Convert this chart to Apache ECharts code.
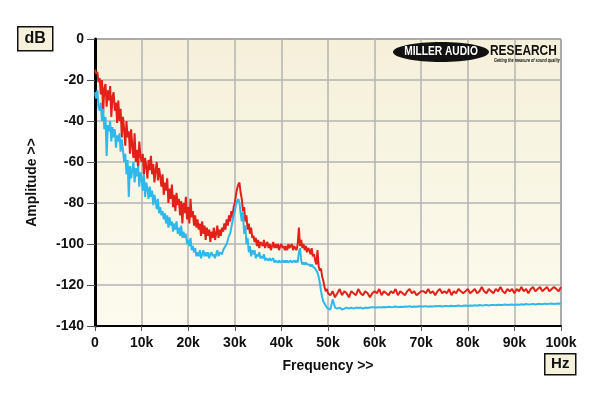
<!DOCTYPE html>
<html><head><meta charset="utf-8">
<script src="https://cdn.jsdelivr.net/npm/echarts@6/dist/echarts.min.js"></script>
<style>html,body{margin:0;padding:0;background:#fff}#c{width:600px;height:396px}</style>
</head><body><div id="c"></div>
<script>
// Frequency grid: 0..50 kHz every 0.25 kHz, then 50.5..100 kHz every 0.5 kHz
const lowStepKHz = 0.25;
const highStartKHz = 50.5;
const highStepKHz = 0.5;
const xTicks = ['0','10k','20k','30k','40k','50k','60k','70k','80k','90k','100k'];
const yTicks = [0,-20,-40,-60,-80,-100,-120,-140];

const redLow = [
-15,-17,-16,-21, -19,-27,-20,-36, -24,-22,-33,-25, -30,-23,-38,-28,
-26,-35,-31,-41, -30,-40,-34,-48, -38,-44,-52,-40, -48,-45,-56,-44,
-52,-58,-46,-60, -54,-63,-50,-57, -60,-56,-66,-58, -62,-68,-59,-64,
-57,-66,-61,-70, -64,-60,-69,-63, -67,-72,-66,-76, -70,-74,-68,-80,
-73,-78,-71,-82, -76,-84,-75,-81, -78,-86,-79,-90, -80,-85,-77,-88,
-82,-90,-78,-87, -84,-91,-86,-92, -88,-93,-90,-96, -89,-95,-91,-98,
-92,-96,-93,-99, -94,-97,-92,-98, -95,-91,-97,-93, -96,-92,-94,-90,
-93,-88,-91,-86, -89,-84,-87,-82, -80,-76,-73,-71, -70,-75,-78,-84,
-82,-89,-86,-93, -90,-95,-92,-97, -96,-99,-97,-101, -98,-102,-99,-100,
-101,-98,-102,-100, -99,-102,-100,-103, -101,-99,-102,-100, -102,-100,-103,-101,
-100,-102,-101,-103, -101,-103,-100,-102, -102,-100,-103,-101, -101,-103,-100,-92,
-101,-98,-102,-100, -103,-101,-104,-102, -103,-105,-102,-106, -105,-108,-110,-103,
-111,-113,-112,-116, -118,-121,-123,-122, -124
];
const blueLow = [
-26,-29,-25,-33, -35,-31,-40,-34, -44,-38,-57,-42, -45,-40,-50,-43,
-48,-44,-53,-47, -50,-46,-55,-49, -54,-60,-56,-66, -59,-77,-62,-68,
-64,-60,-70,-63, -67,-62,-72,-65, -68,-74,-66,-77, -70,-73,-78,-72,
-77,-74,-81,-76, -79,-83,-78,-85, -82,-86,-84,-88, -85,-90,-86,-92,
-87,-91,-89,-94, -90,-93,-89,-95, -92,-96,-91,-97, -94,-97,-95,-100,
-98,-101,-97,-103, -101,-104,-102,-106, -104,-106,-103,-107, -105,-103,-106,-104,
-106,-104,-107,-105, -104,-106,-105,-107, -105,-103,-106,-104, -104,-105,-103,-102,
-101,-100,-98,-96, -95,-92,-89,-86, -84,-81,-79,-78, -80,-85,-89,-84,
-95,-91,-100,-97, -104,-101,-106,-103, -105,-103,-107,-105, -106,-104,-107,-106,
-107,-105,-108,-107, -107,-108,-107,-108, -108,-107,-109,-108, -108,-109,-108,-109,
-109,-108,-109,-108, -109,-108,-109,-109, -108,-109,-109,-108, -109,-108,-109,-104,
-102,-108,-110,-109, -110,-109,-110,-110, -110,-111,-110,-111, -111,-112,-112,-114,
-116,-119,-123,-126, -128,-129,-130,-131, -131.5
];
const redHigh = [
-125,-123,-126,-124,-122,-125,-123,-124,-126,-123,-124,-125,-122,-124,-125,-123,-124,-126,-124,-123,
-124,-122,-125,-123,-124,-125,-123,-124,-122,-125,-123,-124,-125,-123,-122,-124,-123,-125,-124,-123,
-123,-124,-122,-124,-123,-125,-123,-122,-124,-123,-124,-122,-125,-123,-124,-122,-123,-124,-123,-122,
-124,-123,-122,-124,-123,-121,-123,-124,-122,-123,-124,-122,-123,-121,-123,-124,-122,-123,-122,-124,
-122,-123,-121,-123,-122,-124,-122,-121,-123,-122,-121,-123,-122,-121,-123,-122,-121,-122,-123,-121
];
const blueHigh = [
-132,-127,-131,-131.5,-131,-132,-131.5,-131,-131.5,-131,-131.5,-131,-131.2,-131,-131.5,-131,-131.2,-131,-130.8,-131,
-131,-130.8,-131,-130.7,-130.9,-130.6,-130.8,-130.7,-130.5,-130.8,-130.6,-130.7,-130.5,-130.6,-130.4,-130.7,-130.5,-130.6,-130.4,-130.5,
-130.5,-130.3,-130.6,-130.4,-130.5,-130.3,-130.4,-130.2,-130.5,-130.3,-130.2,-130.4,-130.1,-130.3,-130.2,-130.0,-130.3,-130.1,-130.0,-130.2,
-130.0,-130.1,-129.9,-130.1,-129.8,-130.0,-129.9,-129.7,-130.0,-129.8,-129.7,-129.9,-129.6,-129.8,-129.7,-129.5,-129.8,-129.6,-129.5,-129.7,
-129.5,-129.6,-129.4,-129.6,-129.3,-129.5,-129.4,-129.2,-129.5,-129.3,-129.2,-129.4,-129.1,-129.3,-129.2,-129.0,-129.3,-129.1,-129.0,-129.2
];

function build(low, high) {
  const out = [];
  low.forEach((v, i) => out.push([i * lowStepKHz * 1000, v]));
  high.forEach((v, i) => out.push([(highStartKHz + i * highStepKHz) * 1000, v]));
  return out;
}

const FONT = 'Arial, "Liberation Sans", sans-serif';
const chart = echarts.init(document.getElementById('c'), null, {renderer: 'canvas'});
chart.setOption({
  backgroundColor: '#ffffff',
  animation: false,
  grid: {left: 95, top: 39, width: 466, height: 287, show: true,
    backgroundColor: new echarts.graphic.LinearGradient(0,0,0,1,[{offset:0,color:'#f4f0da'},{offset:1,color:'#fdfbee'}]),
    borderColor: '#222', borderWidth: 1},
  xAxis: {
    type: 'value', min: 0, max: 100000, interval: 10000,
    axisLine: {show: true, onZero: false, lineStyle: {color: '#000', width: 2}},
    axisTick: {show: true, length: 5, lineStyle: {color: '#555'}},
    splitLine: {show: true, lineStyle: {color: '#b3b3b3', width: 1.5}},
    axisLabel: {color: '#111', fontWeight: 'bold', fontSize: 14, fontFamily: FONT, margin: 10,
      formatter: v => xTicks[Math.round(v / 10000)]},
    name: 'Frequency >>', nameLocation: 'middle', nameGap: 33,
    nameTextStyle: {color: '#111', fontWeight: 'bold', fontSize: 14, fontFamily: FONT}
  },
  yAxis: {
    type: 'value', min: -140, max: 0, interval: 20,
    axisLine: {show: true, onZero: false, lineStyle: {color: '#000', width: 3}},
    axisTick: {show: true, length: 8, lineStyle: {color: '#555'}},
    splitLine: {show: true, lineStyle: {color: '#b3b3b3', width: 1.5}},
    axisLabel: {color: '#111', fontWeight: 'bold', fontSize: 14, fontFamily: FONT, margin: 11,
      formatter: v => String(yTicks[yTicks.indexOf(v)])},
    name: 'Amplitude >>', nameLocation: 'middle', nameGap: 56, nameRotate: 90,
    nameTextStyle: {color: '#111', fontWeight: 'bold', fontSize: 14, fontFamily: FONT}
  },
  series: [
    {type: 'line', data: build(redLow, redHigh), showSymbol: false, symbol: 'none',
      lineStyle: {color: '#e32119', width: 2}, z: 3},
    {type: 'line', data: build(blueLow, blueHigh), showSymbol: false, symbol: 'none',
      lineStyle: {color: '#2fb8ec', width: 2}, z: 4}
  ],
  graphic: [
    {type: 'group', left: 17, top: 26, children: [
      {type: 'rect', shape: {x: 0, y: 0, width: 35, height: 24}, style: {fill: '#f6f1da', stroke: '#111', lineWidth: 1.5}},
      {type: 'text', style: {x: 17.5, y: 12, text: 'dB', fill: '#111', font: 'bold 16px ' + FONT, textAlign: 'center', textVerticalAlign: 'middle'}}
    ]},
    {type: 'group', left: 544, top: 353, children: [
      {type: 'rect', shape: {x: 0, y: 0, width: 31, height: 21}, style: {fill: '#f6f1da', stroke: '#111', lineWidth: 1.5}},
      {type: 'text', style: {x: 15.5, y: 10.5, text: 'Hz', fill: '#111', font: 'bold 15px ' + FONT, textAlign: 'center', textVerticalAlign: 'middle'}}
    ]},
    {type: 'ellipse', shape: {cx: 441, cy: 52, rx: 48, ry: 10}, style: {fill: '#111'}, z: 10},
    {type: 'text', z: 11, x: 441, y: 52, scaleX: 0.85,
      style: {x: 0, y: 0, text: 'MILLER AUDIO', fill: '#fff', font: 'bold 12px ' + FONT, textAlign: 'center', textVerticalAlign: 'middle'}},
    {type: 'text', z: 11, x: 490, y: 51, scaleX: 0.85,
      style: {x: 0, y: 0, text: 'RESEARCH', fill: '#111', font: 'bold 14px ' + FONT, textAlign: 'left', textVerticalAlign: 'middle'}},
    {type: 'text', z: 11, x: 494, y: 60.5, scaleX: 0.62,
      style: {x: 0, y: 0, text: 'Getting the measure of sound quality', fill: '#111', font: 'italic bold 6px ' + FONT, textAlign: 'left', textVerticalAlign: 'middle'}}
  ]
});
</script></body></html>
